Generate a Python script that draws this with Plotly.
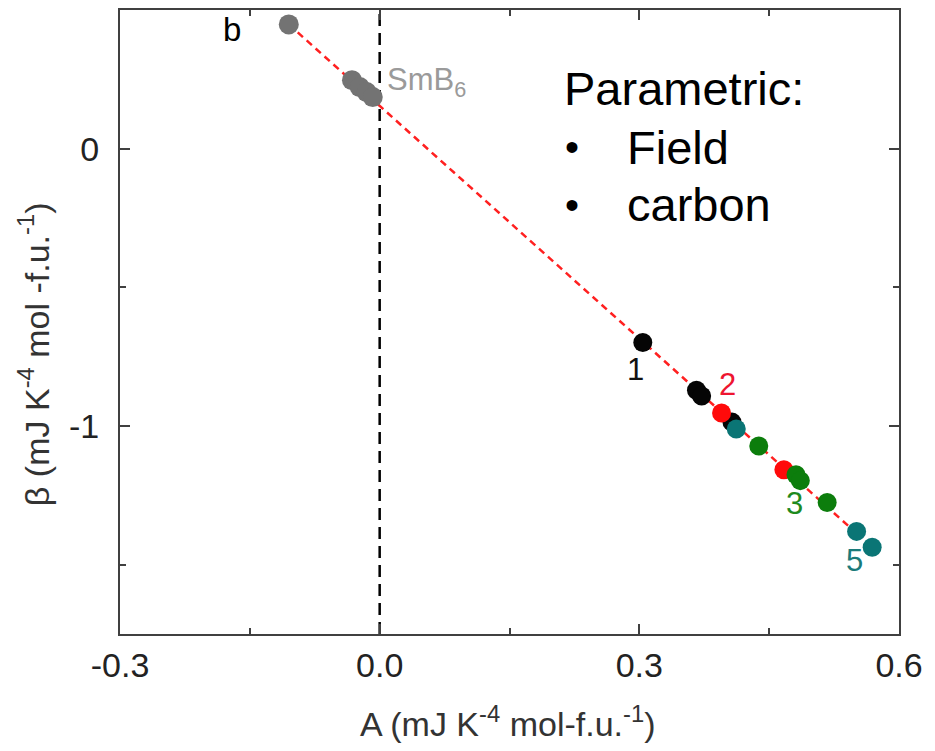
import plotly.graph_objects as go

# data
smb6_x = [-0.105, -0.032, -0.023, -0.015, -0.008]
smb6_y = [0.448, 0.247, 0.222, 0.204, 0.186]

black_x = [0.304, 0.366, 0.372, 0.407]
black_y = [-0.699, -0.871, -0.892, -0.986]

red_x = [0.395, 0.467]
red_y = [-0.953, -1.158]

green_x = [0.438, 0.481, 0.486, 0.517]
green_y = [-1.072, -1.176, -1.197, -1.276]

teal_x = [0.412, 0.551, 0.569]
teal_y = [-1.011, -1.380, -1.437]

fit_x = [-0.105, 0.555]
fit_y = [0.448, -1.398]

x_ticks = [-0.3, 0.0, 0.3, 0.6]
x_ticklabels = ["-0.3", "0.0", "0.3", "0.6"]
y_ticks = [0, -1]
y_ticklabels = ["0", "-1"]

FONT = "Liberation Sans"

fig = go.Figure()

fig.add_trace(go.Scatter(x=[0, 0], y=[-1.75, 0.5], mode="lines",
                         line=dict(color="black", width=2.5, dash="12px,7px"), showlegend=False))
fig.add_trace(go.Scatter(x=fit_x, y=fit_y, mode="lines",
                         line=dict(color="#ff2020", width=2.5, dash="7px,5px"), showlegend=False))

def pts(x, y, color, size=19):
    fig.add_trace(go.Scatter(x=x, y=y, mode="markers",
                             marker=dict(color=color, size=size, line=dict(width=0)),
                             showlegend=False))

pts(smb6_x, smb6_y, "#737373", 20)
pts(black_x, black_y, "#050505")
pts(red_x, red_y, "#ff0a0a")
pts(green_x, green_y, "#0c7d0c")
pts(teal_x, teal_y, "#0a7575")

annots = [
    dict(x=-0.171, y=0.428, text="b", color="black", size=33, anchor="center"),
    dict(x=0.006, y=0.240, text="SmB<sub>6</sub>", color="#9a9a9a", size=31, anchor="left"),
    dict(x=0.296, y=-0.797, text="1", color="#111111", size=31, anchor="center"),
    dict(x=0.402, y=-0.851, text="2", color="#ee1530", size=31, anchor="center"),
    dict(x=0.479, y=-1.281, text="3", color="#1e8a1e", size=31, anchor="center"),
    dict(x=0.549, y=-1.485, text="5", color="#1a7a7a", size=31, anchor="center"),
]
for a in annots:
    fig.add_annotation(x=a["x"], y=a["y"], text=a["text"], showarrow=False,
                       font=dict(family=FONT, size=a["size"], color=a["color"]),
                       xanchor=a["anchor"], yanchor="middle")

# "Parametric" text block
legend_lines = [
    dict(x=0.211, y=0.216, text="Parametric:"),
    dict(x=0.283, y=0.006, text="Field"),
    dict(x=0.283, y=-0.202, text="carbon"),
]
for ln in legend_lines:
    fig.add_annotation(x=ln["x"], y=ln["y"], text=ln["text"], showarrow=False,
                       xanchor="left", yanchor="middle",
                       font=dict(family=FONT, size=47, color="black"))
for by in [0.006, -0.202]:
    fig.add_annotation(x=0.222, y=by, text="•", showarrow=False,
                       xanchor="center", yanchor="middle",
                       font=dict(family=FONT, size=40, color="black"))

# axis titles
fig.add_annotation(xref="paper", yref="paper", x=0.498, y=-0.141,
                   text="A (mJ K<sup>-4</sup> mol-f.u.<sup>-1</sup>)", showarrow=False,
                   xanchor="center", yanchor="middle",
                   font=dict(family=FONT, size=34, color="#333333"))
fig.add_annotation(xref="paper", yref="paper", x=-0.110, y=0.449,
                   text="β (mJ K<sup>-4</sup> mol -f.u.<sup>-1</sup>)", showarrow=False,
                   textangle=-90, xanchor="center", yanchor="middle",
                   font=dict(family=FONT, size=34, color="#333333"))

axis_common = dict(showline=True, linecolor="#404040", linewidth=2, mirror="ticks",
                   ticks="inside", ticklen=10, tickwidth=1.5, tickcolor="#404040",
                   showgrid=False, zeroline=False,
                   tickfont=dict(family=FONT, size=34, color="#222222"))

fig.update_xaxes(range=[-0.3, 0.6], tickvals=x_ticks, ticktext=x_ticklabels,
                 ticklabelstandoff=0,
                 minor=dict(tickvals=[-0.15, 0.15, 0.45], ticks="inside", ticklen=6,
                            tickcolor="#404040", tickwidth=1.5),
                 **axis_common)
fig.update_yaxes(range=[-1.75, 0.5], tickvals=y_ticks, ticktext=y_ticklabels,
                 ticklabelstandoff=12,
                 minor=dict(tickvals=[-0.5, -1.5, 0.5], ticks="inside", ticklen=6,
                            tickcolor="#404040", tickwidth=1.5),
                 **axis_common)

fig.update_layout(width=935, height=751, margin=dict(l=120, r=36, t=8, b=117),
                  plot_bgcolor="white", paper_bgcolor="white", showlegend=False)

fig.write_html("out.html")
